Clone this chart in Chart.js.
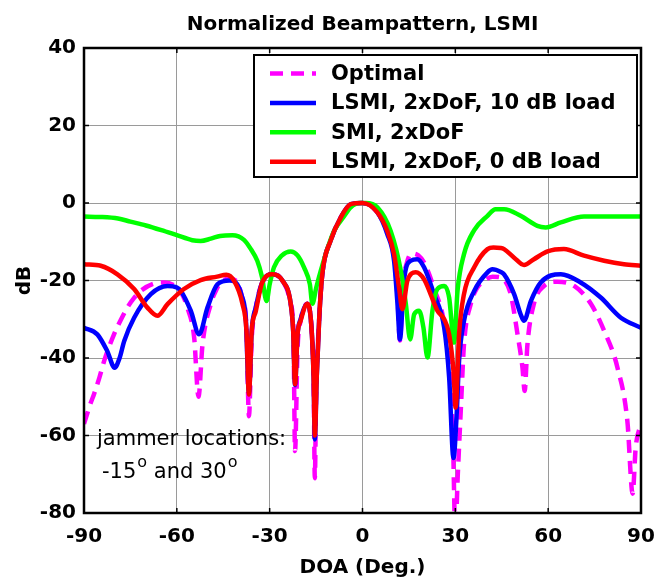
<!DOCTYPE html>
<html>
<head>
<meta charset="utf-8">
<script src="https://cdn.jsdelivr.net/npm/chart.js@4.4.1/dist/chart.umd.min.js"></script>
<style>
  html, body { margin: 0; padding: 0; background: #fff; }
  #wrap { width: 657px; height: 579px; }
</style>
</head>
<body>
<div id="wrap"><canvas id="beam" width="657" height="579"></canvas></div>
<script>
// values (DOA in degrees, level in dB)
var optimalDeg = [-90, -88, -86.8, -85, -83.5, -80.3, -78, -76, -73.8, -71.7, -67.4, -64, -60, -58, -56.6, -54.4, -53, -51.7, -49, -47, -45.8, -43, -41, -39, -37.5, -36.7, -35.8, -34.5, -32.4, -29.1, -25.9, -23.2, -22.3, -21.8, -21, -20, -17.8, -16.5, -15.8, -15.4, -15, -14, -13, -10.3, -7, -3.8, 0, 3, 4.8, 8, 10.2, 11.3, 12.1, 13, 14.5, 16, 18, 20, 23.1, 26.4, 28, 29.2, 30, 30.8, 31.8, 32.8, 35, 37, 39.3, 42, 44.7, 45.75, 47.9, 50.1, 51.7, 52.4, 53.3, 55.4, 58.7, 63, 68.4, 73.8, 78.1, 82.4, 85.6, 87.3, 88.3, 90];
var optimalDb = [-57, -52, -49.4, -45, -40.8, -33.9, -30, -27, -24.5, -22.7, -20.8, -20.5, -21.8, -24, -27, -34.7, -50, -36.5, -26, -22, -20.5, -19.5, -20, -24, -32, -55, -35, -27, -20.5, -18.4, -20, -26, -34, -64, -38, -30.4, -26, -32, -45, -71, -50, -30, -18.4, -9.7, -3.7, -0.5, 0, -1, -2.4, -7.2, -13.5, -24, -35.5, -22, -15, -13, -13.5, -15.5, -22, -31, -42, -60, -85, -70, -52.8, -36.5, -26, -22, -20.1, -19, -19.2, -19.7, -23.5, -33.9, -42.5, -48.5, -36.5, -26, -21.4, -20.3, -21.4, -26, -33, -42.5, -56.3, -75, -63, -57];

var lsmi10Deg = [-90, -85.7, -82.5, -80.1, -78.5, -77, -73.8, -68.4, -63, -60, -58.7, -55.5, -52.8, -50.1, -46.9, -43, -41, -39, -37.7, -36.7, -35.8, -34.5, -32.4, -29.1, -25.9, -23.2, -22.4, -21.8, -21, -20, -17.8, -16.5, -15.8, -15.4, -14.8, -14, -13, -10.3, -7, -3.8, 0, 4.8, 8, 10.2, 11.3, 12.1, 13.4, 15.6, 17.7, 19.9, 23.1, 26.4, 28, 29.4, 30.4, 31.2, 32.8, 36.1, 40.4, 42, 44.7, 45.75, 49, 51.1, 52.2, 54.4, 57.6, 64.1, 70.5, 77, 83.5, 90];
var lsmi10Db = [-32.2, -33.9, -38.2, -42.5, -40, -35.6, -29.6, -23.5, -21.4, -21.8, -22.7, -27.8, -33.9, -27, -21, -20, -20.5, -24, -30, -49, -33, -27, -20.5, -18.4, -20, -26, -33, -47, -34, -30, -26, -32, -45, -61, -45, -30, -18.4, -9.7, -3.7, -0.3, 0, -2.4, -8, -14.9, -26, -35.2, -20.1, -14.9, -14.5, -16.6, -23.5, -32.2, -45, -65.8, -55, -40.8, -30.4, -22.7, -17.9, -17.1, -17.8, -18.4, -23.5, -28.7, -30.4, -25.3, -20.5, -18.4, -20.5, -24.4, -29.6, -32.2];

var smiDeg = [-90, -85, -79, -75, -70, -65, -60, -55, -52.3, -49, -46, -42, -38.3, -36, -34, -32.5, -31, -30, -28.6, -26, -23.2, -21, -18.9, -17, -16.2, -15, -13.5, -11, -9.2, -6, -3.8, -1, 1, 4.8, 9.1, 12.4, 14, 15.4, 16.7, 18.3, 19.7, 21, 22.6, 24.2, 26.4, 28, 29.6, 30.7, 32.8, 36.1, 40.4, 43, 45.75, 51.1, 56.5, 59.2, 64.1, 71.6, 80, 90];
var smiDb = [-3.5, -3.6, -4, -4.8, -5.8, -7, -8.3, -9.6, -9.8, -9.2, -8.5, -8.3, -9.5, -12, -14.9, -19, -25.3, -21, -16.6, -13.5, -12.5, -13.5, -16.6, -21, -26, -22, -17.5, -11, -7.2, -3.5, -1.1, 0, 0, -1.1, -7.2, -17.5, -26, -35.2, -28.7, -27.8, -32.2, -39.9, -27.8, -22.2, -21.4, -24.4, -36, -22.7, -13.2, -7, -3.3, -1.6, -1.6, -3.3, -5.9, -6.3, -5, -3.5, -3.5, -3.5];

var lsmi0Deg = [-90, -84.6, -79.2, -73.8, -69.5, -66.3, -63, -57.7, -52.3, -47, -44, -41.5, -38.8, -37.5, -36.7, -35.8, -34.5, -32.4, -29.1, -25.9, -23.2, -22.4, -21.8, -21, -20, -17.8, -16.5, -15.8, -15.4, -14.8, -14, -13, -10.3, -7, -3.8, 0, 4.8, 8, 10.2, 11.8, 12.9, 14.5, 17.2, 19.9, 22, 24.2, 26.4, 28, 29.4, 30.1, 31.2, 32.8, 36.1, 40.4, 42.3, 44.7, 45.75, 49, 52.2, 55.4, 59.8, 65.1, 71.6, 78.1, 84.5, 90];
var lsmi0Db = [-15.8, -16.2, -18.4, -22.2, -27, -29.1, -26.1, -22.2, -19.9, -19, -18.5, -20.1, -26, -33, -49.4, -33, -28, -20.5, -18.4, -20, -26, -33, -46.8, -34, -30.4, -26, -32, -45, -60, -45, -30, -18.4, -9.7, -3.7, -0.3, 0, -2.4, -7.2, -13.2, -21.8, -27.4, -20.1, -17.9, -19.7, -23.5, -27.8, -30, -33.9, -43.4, -52.8, -33.9, -23.5, -16.6, -11.9, -11.5, -11.6, -11.9, -14.1, -16, -14.5, -12.5, -11.9, -13.6, -14.9, -15.8, -16.2];

var seriesNames = ['Optimal', 'LSMI, 2xDoF, 10 dB load', 'SMI, 2xDoF', 'LSMI, 2xDoF, 0 dB load'];
var xTicks = [-90, -60, -30, 0, 30, 60, 90];
var yTicks = [-80, -60, -40, -20, 0, 20, 40];

var FONT = "'DejaVu Sans'";
var DASH = [13, 8];

function pts(xs, ys) {
    return xs.map(function (x, i) { return { x: x, y: ys[i] }; });
}

var datasets = [
    { label: seriesNames[0], data: pts(optimalDeg, optimalDb), borderColor: '#ff00ff', borderDash: DASH, order: 4 },
    { label: seriesNames[1], data: pts(lsmi10Deg, lsmi10Db), borderColor: '#0000ff', order: 3 },
    { label: seriesNames[2], data: pts(smiDeg, smiDb), borderColor: '#00ff00', order: 2 },
    { label: seriesNames[3], data: pts(lsmi0Deg, lsmi0Db), borderColor: '#ff0000', order: 1 }
];
datasets.forEach(function (d) {
    d.borderWidth = 4.5;
    d.pointRadius = 0;
    d.cubicInterpolationMode = 'monotone';
    d.fill = false;
    d.clip = 0;
    d.borderJoinStyle = 'round';
});

// frame, inward ticks, titles, legend box and the note
var decor = {
    id: 'decor',
    afterDatasetsDraw: function (chart) {
        var ctx = chart.ctx;
        var a = chart.chartArea;
        var xs = chart.scales.x, ys = chart.scales.y;
        ctx.save();

        // frame
        ctx.strokeStyle = '#000';
        ctx.lineWidth = 2.5;
        ctx.strokeRect(a.left, a.top, a.right - a.left, a.bottom - a.top);
        ctx.lineWidth = 1.5;
        ctx.beginPath();
        xTicks.forEach(function (t) {
            var px = xs.getPixelForValue(t);
            ctx.moveTo(px, a.bottom); ctx.lineTo(px, a.bottom - 5);
            ctx.moveTo(px, a.top); ctx.lineTo(px, a.top + 5);
        });
        yTicks.forEach(function (t) {
            var py = ys.getPixelForValue(t);
            ctx.moveTo(a.left, py); ctx.lineTo(a.left + 5, py);
            ctx.moveTo(a.right, py); ctx.lineTo(a.right - 5, py);
        });
        ctx.stroke();

        // legend
        var lx = 254, ly = 55, lw = 383, lh = 122;
        ctx.fillStyle = '#fff';
        ctx.fillRect(lx, ly, lw, lh);
        ctx.lineWidth = 2;
        ctx.strokeRect(lx, ly, lw, lh);
        ctx.font = 'bold 21px ' + FONT;
        ctx.textBaseline = 'middle';
        ctx.textAlign = 'left';
        datasets.forEach(function (d, i) {
            var ry = 73.5 + i * 29.4;
            ctx.beginPath();
            ctx.strokeStyle = d.borderColor;
            ctx.lineWidth = 4.5;
            ctx.setLineDash(d.borderDash || []);
            ctx.moveTo(270, ry); ctx.lineTo(316, ry);
            ctx.stroke();
            ctx.setLineDash([]);
            ctx.fillStyle = '#000';
            ctx.fillText(d.label, 331, ry + 1);
        });

        // note about jammers
        ctx.fillStyle = '#000';
        ctx.textBaseline = 'alphabetic';
        ctx.font = '21px ' + FONT;
        ctx.fillText('jammer locations:', 97, 445);
        var x = 102, base = 478;
        ctx.fillText('-15', x, base); x += ctx.measureText('-15').width + 1;
        ctx.font = '16px ' + FONT;
        ctx.fillText('o', x, base - 11); x += ctx.measureText('o').width;
        ctx.font = '21px ' + FONT;
        ctx.fillText(' and 30', x, base); x += ctx.measureText(' and 30').width + 1;
        ctx.font = '16px ' + FONT;
        ctx.fillText('o', x, base - 11);

        // titles
        ctx.font = 'bold 20px ' + FONT;
        ctx.textAlign = 'center';
        ctx.fillText('Normalized Beampattern, LSMI', (a.left + a.right) / 2, 29.5);
        ctx.fillText('DOA (Deg.)', (a.left + a.right) / 2, 573);
        ctx.translate(29.5, (a.top + a.bottom) / 2);
        ctx.rotate(-Math.PI / 2);
        ctx.fillText('dB', 0, 0);
        ctx.restore();
    }
};

window.onload = function () {
    Chart.defaults.font.family = FONT;
    var ctx = document.getElementById('beam').getContext('2d');
    new Chart(ctx, {
        type: 'line',
        data: { datasets: datasets },
        options: {
            responsive: false,
            animation: false,
            events: [],
            layout: { padding: { top: 48, right: 16, left: 0, bottom: 0 } },
            plugins: {
                legend: { display: false },
                title: { display: false },
                tooltip: { enabled: false }
            },
            scales: {
                x: {
                    type: 'linear',
                    min: -90,
                    max: 90,
                    afterFit: function (s) { s.height = 66; s.paddingLeft = 0; s.paddingRight = 0; },
                    afterBuildTicks: function (s) { s.ticks = xTicks.map(function (v) { return { value: v }; }); },
                    grid: { color: '#9a9a9a', lineWidth: 1, drawTicks: false },
                    border: { display: false },
                    ticks: { color: '#000', font: { size: 20, weight: 'bold' }, padding: 12, maxRotation: 0 }
                },
                y: {
                    type: 'linear',
                    min: -80,
                    max: 40,
                    afterFit: function (s) { s.width = 84; s.paddingTop = 0; s.paddingBottom = 0; },
                    afterBuildTicks: function (s) { s.ticks = yTicks.map(function (v) { return { value: v }; }); },
                    grid: { color: '#9a9a9a', lineWidth: 1, drawTicks: false },
                    border: { display: false },
                    ticks: { color: '#000', font: { size: 20, weight: 'bold' }, padding: 8 }
                }
            }
        },
        plugins: [decor]
    });
};
</script>
</body>
</html>
